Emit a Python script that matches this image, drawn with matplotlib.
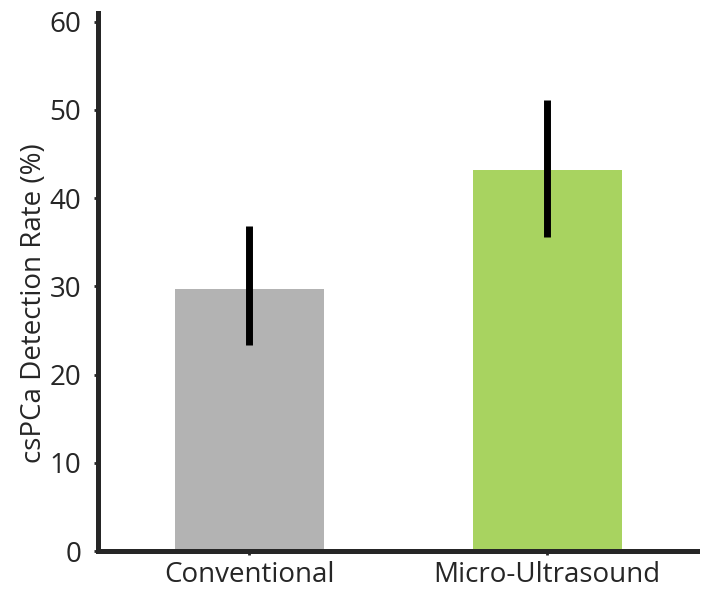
import numpy as np
import matplotlib
matplotlib.use('Agg')
import matplotlib.pyplot as plt

plt.rcParams['font.family'] = ['Open Sans', 'DejaVu Sans']

groups = ['Conventional', 'Micro-Ultrasound']
rate = [29.7, 43.2]
err_low = [23.4, 35.6]
err_high = [36.8, 51.1]
colors = ['#b3b3b3', '#a8d360']

fig = plt.figure(figsize=(7.05, 6.13), dpi=100)
ax = fig.add_axes([0.139, 0.101, 0.85, 0.878])

x = np.arange(len(groups))
ax.bar(x, rate, width=0.5, color=colors, zorder=1)
yerr = np.array([np.array(rate) - np.array(err_low), np.array(err_high) - np.array(rate)])
ax.errorbar(x, rate, yerr=yerr, fmt='none', ecolor='black', elinewidth=5, capsize=0, zorder=3)

ax.set_xlim(-0.507, 1.503)
ax.set_ylim(0, 61)
ax.set_yticks([0, 10, 20, 30, 40, 50, 60])
ax.set_xticks(x)
ax.set_xticklabels(groups)

for s in ['top', 'right']:
    ax.spines[s].set_visible(False)
for s in ['left', 'bottom']:
    ax.spines[s].set_linewidth(3.6)
    ax.spines[s].set_color('#262626')

ax.tick_params(axis='both', labelsize=20, colors='#262626', length=3, width=2)
ax.tick_params(axis='y', pad=9)
ax.tick_params(axis='x', pad=4)
ax.set_ylabel('csPCa Detection Rate (%)', fontsize=20, color='#262626')
ax.yaxis.set_label_coords(-0.083, 0.46)

plt.savefig('out.png', dpi=100)
